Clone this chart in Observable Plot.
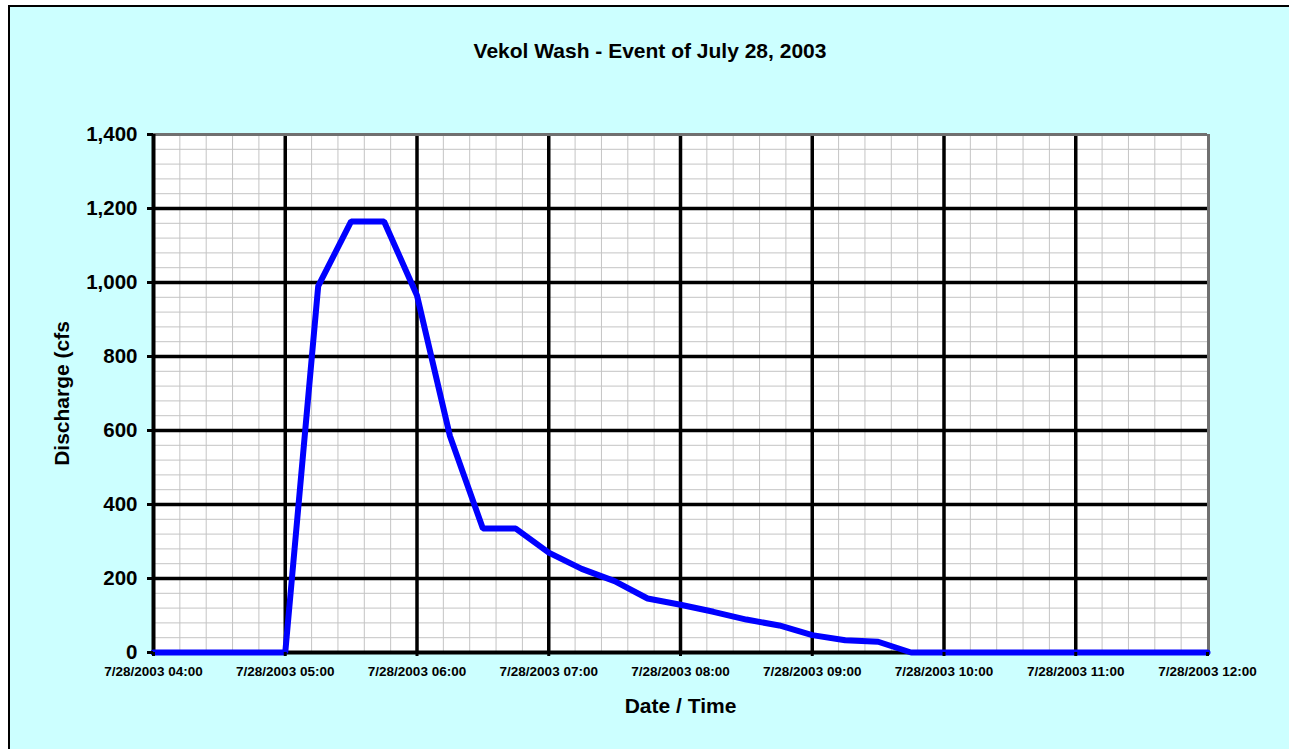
<!DOCTYPE html>
<html>
<head>
<meta charset="utf-8">
<script src="https://cdn.jsdelivr.net/npm/d3@7"></script>
<script src="https://cdn.jsdelivr.net/npm/@observablehq/plot@0.6"></script>
<style>
  html, body { margin: 0; padding: 0; background: #ffffff; overflow: hidden; }
  #panel { position: absolute; left: 8px; top: 5px; width: 1400px; height: 800px;
           border-top: 2px solid #000; border-left: 2px solid #000; background: #CCFFFF; }
  #title { position: absolute; left: 0; top: 39px; width: 1300px; text-align: center;
           font-family: Arial, "Liberation Sans", sans-serif; font-weight: bold; font-size: 21px; color: #000; }
  #chart { position: absolute; left: 0; top: 80px; }
</style>
</head>
<body>
<div id="panel"></div>
<div id="title">Vekol Wash - Event of July 28, 2003</div>
<div id="chart"></div>
<script>
// ---- data ----
const times = ["04:00","04:15","04:30","04:45","05:00","05:15","05:30","05:45","06:00","06:15","06:30","06:45",
               "07:00","07:15","07:30","07:45","08:00","08:15","08:30","08:45","09:00","09:15","09:30","09:45",
               "10:00","10:15","10:30","10:45","11:00","11:15","11:30","11:45","12:00"];
const discharge = [0,0,0,0,0,990,1165,1165,965,585,335,335,
                   270,226,193,146,129,110,89,73,47,33,29,0,
                   0,0,0,0,0,0,0,0,0];
const yTicks = [0,200,400,600,800,1000,1200,1400];
const xTickHours = [4,5,6,7,8,9,10,11,12];
const titleText = "Vekol Wash - Event of July 28, 2003";
const yLabel = "Discharge (cfs";
const xLabel = "Date / Time";

const toDate = (s) => { const [h, m] = s.split(":").map(Number); return new Date(Date.UTC(2003, 6, 28, h, m)); };
const data = times.map((t, i) => ({date: toDate(t), q: discharge[i]}));
const xTicks = xTickHours.map(h => new Date(Date.UTC(2003, 6, 28, h, 0)));
const x0 = xTicks[0], x1 = xTicks[xTicks.length - 1];
const minorX = d3.utcMinute.every(12).range(x0, x1);
const minorY = d3.range(0, 1400, 40);
const fmtX = d3.utcFormat("%-m/%-d/%Y %H:%M");

const chart = Plot.plot({
  width: 1289,
  height: 669,
  marginLeft: 153,
  marginRight: 82,
  marginTop: 54,
  marginBottom: 97,
  style: {background: "transparent", fontFamily: "Arial, 'Liberation Sans', sans-serif", fontWeight: "bold", color: "#000", overflow: "visible"},
  x: {type: "utc", domain: [x0, x1]},
  y: {domain: [0, 1400]},
  marks: [
    Plot.frame({fill: "white", stroke: null}),
    Plot.ruleX(minorX, {stroke: "#c4c4c4", strokeWidth: 1}),
    Plot.ruleY(minorY, {stroke: "#c4c4c4", strokeWidth: 1}),
    Plot.ruleX(xTicks.slice(1, -1), {stroke: "#000", strokeWidth: 3.5}),
    Plot.ruleY(yTicks.slice(1, -1), {stroke: "#000", strokeWidth: 3.5}),
    Plot.ruleX([x1], {stroke: "#707070", strokeWidth: 3, dx: 1}),
    Plot.ruleY([1400], {stroke: "#707070", strokeWidth: 3}),
    Plot.ruleX([x0], {stroke: "#000", strokeWidth: 4}),
    Plot.ruleY([0], {stroke: "#000", strokeWidth: 4}),
    Plot.line(data, {x: "date", y: "q", stroke: "#0000FF", strokeWidth: 6, strokeLinejoin: "bevel"}),
    Plot.axisY({ticks: yTicks, tickFormat: d3.format(","), fontSize: 20.5, tickSize: 6, tickPadding: 10, label: null, strokeWidth: 3}),
    Plot.axisX({ticks: xTicks, tickFormat: fmtX, fontSize: 13.5, tickSize: 4, tickPadding: 10, label: null, strokeWidth: 3}),
    Plot.text([yLabel], {frameAnchor: "left", dx: -91, rotate: -90, textAnchor: "middle", lineAnchor: "middle", fontSize: 21, fontWeight: "bold", fill: "#000"}),
    Plot.text([xLabel], {frameAnchor: "bottom", dy: 54, textAnchor: "middle", lineAnchor: "middle", fontSize: 21, fontWeight: "bold", fill: "#000"})
  ]
});
document.getElementById("chart").appendChild(chart);
document.getElementById("title").textContent = titleText;
</script>
</body>
</html>
